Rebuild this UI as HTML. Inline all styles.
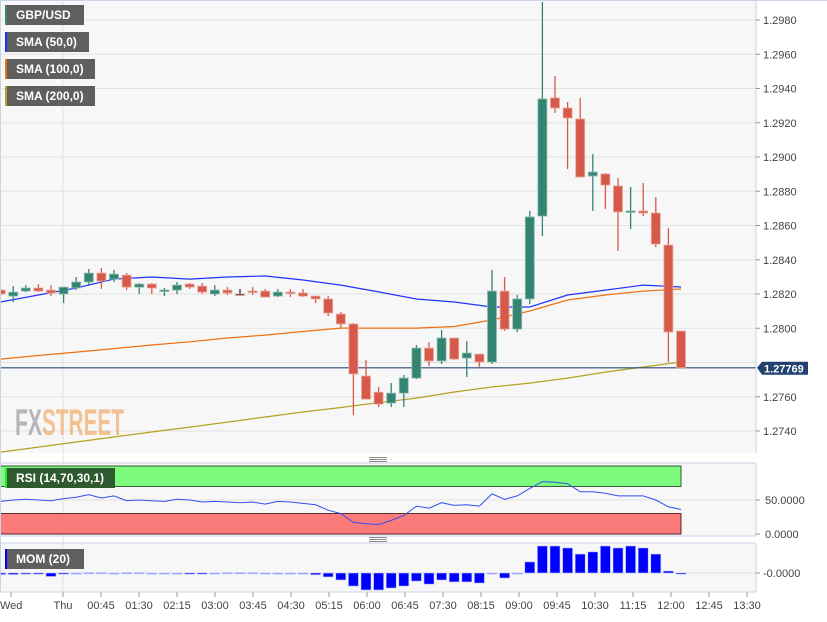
<!DOCTYPE html>
<html><head><meta charset="utf-8"><style>
body{margin:0;background:#fff;font-family:"Liberation Sans",sans-serif}
svg text{font-family:"Liberation Sans",sans-serif}
</style></head><body>
<svg id="chart" width="827" height="617" viewBox="0 0 827 617" xmlns="http://www.w3.org/2000/svg">
<rect x="0" y="0" width="827" height="617" fill="#ffffff"/>
<rect x="0" y="0" width="756" height="453" fill="#f7f7f7"/>
<rect x="0" y="463" width="756" height="73" fill="#f7f7f7"/>
<rect x="0" y="543" width="756" height="49" fill="#f7f7f7"/>
<g id="grid"></g>
<g opacity="0.6">
<text x="15" y="435" font-size="37" font-weight="bold" fill="#8a8a92" textLength="27" lengthAdjust="spacingAndGlyphs">FX</text>
<text x="42" y="435" font-size="37" font-weight="bold" fill="#f0a050" textLength="82" lengthAdjust="spacingAndGlyphs">STREET</text>
</g>
<g id="sma"></g>
<g id="candles"></g>
<g id="ind"></g>
<g id="axes"></g>
<g id="legend"></g>
</svg>
<script>
const categories = ["Wed","Thu","00:45","01:30","02:15","03:00","03:45","04:30","05:15","06:00","06:45","07:30","08:15","09:00","09:45","10:30","11:15","12:00","12:45","13:30"];
const opens  = [1.28223,1.28188,1.28217,1.28235,1.28223,1.282,1.28235,1.2827,1.28322,1.28287,1.2831,1.2824,1.28258,1.28217,1.28223,1.28258,1.28246,1.282,1.28223,1.282,1.28217,1.28217,1.28188,1.28211,1.28206,1.28188,1.28171,1.28083,1.28025,1.27721,1.27627,1.27563,1.27621,1.27709,1.27884,1.27809,1.27943,1.27826,1.27849,1.27803,1.28217,1.27995,1.28171,1.28655,1.29345,1.29286,1.29222,1.28889,1.28901,1.28831,1.28683,1.28685,1.28673,1.28486,1.27984];
const highs  = [1.28229,1.28246,1.28252,1.28258,1.28252,1.2824,1.28299,1.28346,1.28352,1.2834,1.28322,1.28264,1.28264,1.28235,1.2827,1.28264,1.28264,1.28252,1.2824,1.28229,1.2824,1.28229,1.28229,1.28229,1.28229,1.28188,1.28188,1.28095,1.2803,1.27815,1.27657,1.2768,1.27727,1.27902,1.27919,1.2799,1.27943,1.27925,1.27849,1.2834,1.28299,1.28194,1.28685,1.29905,1.29473,1.29321,1.29345,1.29017,1.28906,1.28877,1.28825,1.28848,1.28766,1.28585,1.27984];
const lows   = [1.28188,1.28153,1.28211,1.28211,1.28188,1.28147,1.28223,1.28252,1.28229,1.2827,1.28223,1.282,1.282,1.28188,1.282,1.28229,1.282,1.28188,1.28194,1.282,1.28194,1.28182,1.28182,1.28182,1.28182,1.28147,1.28071,1.28001,1.27493,1.27586,1.2754,1.2754,1.2754,1.27703,1.27779,1.27791,1.27814,1.27715,1.27774,1.27791,1.27984,1.27978,1.28141,1.28539,1.29257,1.2893,1.28883,1.28685,1.28696,1.28451,1.28579,1.28655,1.28474,1.27803,1.27768];
const closes = [1.282,1.28211,1.28235,1.28217,1.28206,1.2824,1.2827,1.28322,1.28276,1.28316,1.2824,1.28258,1.28235,1.28223,1.28252,1.2824,1.28211,1.28223,1.28206,1.282,1.28211,1.28182,1.28211,1.28206,1.28188,1.28171,1.28089,1.28025,1.27733,1.27586,1.27557,1.27621,1.27709,1.27884,1.27809,1.27943,1.2782,1.27855,1.27803,1.28217,1.27995,1.28171,1.2865,1.29339,1.29286,1.29228,1.28883,1.28912,1.28836,1.28679,1.28685,1.28673,1.28492,1.27978,1.27769];
const smaIdx = [0,3,6,9,12,15,18,21,24,27,30,33,36,39,42,45,48,51,54];
const sma50  = [1.28153,1.28194,1.28235,1.28287,1.28299,1.28287,1.28299,1.28305,1.28282,1.28252,1.28212,1.28171,1.28153,1.28124,1.28124,1.28194,1.28223,1.28252,1.28241];
const sma100 = [1.2782,1.27841,1.27861,1.27881,1.27902,1.27921,1.27943,1.2796,1.27981,1.28001,1.28001,1.28001,1.2801,1.28048,1.28101,1.28165,1.28194,1.28217,1.28229];
const sma200 = [1.27277,1.27306,1.27336,1.27365,1.27394,1.27423,1.27452,1.27482,1.27511,1.27537,1.27566,1.27592,1.27628,1.27657,1.2768,1.27709,1.27744,1.27774,1.27803];
const rsi = [48,50,51,50,49,52,54,58,53,56,49,50,49,48,51,50,47,48,47,46,47,44,48,47,45,43,35,30,17,15,14,20,27,41,38,46,42,43,41,59,51,56,67,77,76,74,62,62,60,56,56,56,50,40,36];
const mom = [-7,-7,-5,-5,-16,-5,-2,2,2,0,2,2,0,0,-2,-5,-5,0,2,2,2,0,0,0,-2,-8,-18,-32,-60,-78,-78,-69,-60,-37,-51,-32,-41,-41,-46,0,-23,0,51,124,124,115,87,97,124,115,124,115,87,9,-5];
const priceTicks = [1.298,1.296,1.294,1.292,1.290,1.288,1.286,1.284,1.282,1.280,1.278,1.276,1.274];
const lastPrice = 1.27769;

const NS="http://www.w3.org/2000/svg";
function mk(parent,tag,attrs){const e=document.createElementNS(NS,tag);for(const k in attrs)e.setAttribute(k,attrs[k]);parent.appendChild(e);return e;}
const X=i=>0.6+i*12.6;
const Y=p=>20+(1.298-p)*17125;
const RY=v=>534-v*0.68;
const MY=v=>573-v*(27/124);
const catX=[11,63,101,139,177,215,253,291,329,367,405,443,481,519,557,595,633,671,709,747];

const grid=document.getElementById('grid');
priceTicks.forEach(p=>{const l=mk(grid,'line',{x1:0,x2:756,y1:Y(p),y2:Y(p),stroke:'#e2e2e2','stroke-width':1});

});
const vg=mk(grid,'line',{x1:63,x2:63,y1:0,y2:592,stroke:'#e2e2e2'});


const rg=mk(grid,'line',{x1:0,x2:756,y1:RY(50),y2:RY(50),stroke:'#e2e2e2'});



const smaG=document.getElementById('sma');
[[sma200,'#b5a11f','sma-200-line'],[sma100,'#f07010','sma-100-line'],[sma50,'#2233ff','sma-50-line']].forEach(([arr,c,n])=>{
 const d=arr.map((v,k)=>(k?'L':'M')+X(smaIdx[k]).toFixed(1)+' '+Y(v).toFixed(1)).join(' ');
 const pth=mk(smaG,'path',{d:d,fill:'none',stroke:c,'stroke-width':1.2});
 
 
});
const cl=mk(smaG,'line',{x1:0,x2:756,y1:Y(lastPrice),y2:Y(lastPrice),stroke:'#2b4a78','stroke-width':1.2});



const cg=document.getElementById('candles');
opens.forEach((o,i)=>{
 const c=closes[i],x=X(i);
 const col=c>o?'#338471':(c<o?'#d55a4a':'#222');
 const g=mk(cg,'g',{});
 
 
 mk(g,'line',{x1:x,x2:x,y1:Y(highs[i]),y2:Y(lows[i]),stroke:col,'stroke-width':1.3});
 const top=Y(Math.max(o,c)),h=Math.max(1.5,Math.abs(Y(o)-Y(c)));
 mk(g,'rect',{x:x-4.5,y:top,width:9,height:h,fill:col,stroke:c>o?'#8fbcb0':'#eba79d','stroke-width':0.8});
});

const ig=document.getElementById('ind');
const gb=mk(ig,'rect',{x:0,y:RY(100),width:681,height:RY(70)-RY(100),fill:'#7dfb7d',stroke:'#113311','stroke-width':0.8});


const rb=mk(ig,'rect',{x:0,y:RY(30),width:681,height:RY(0)-RY(30),fill:'#fb7b7b',stroke:'#330000','stroke-width':0.8});


const rl=mk(ig,'path',{d:rsi.map((v,i)=>(i?'L':'M')+X(i).toFixed(1)+' '+RY(v).toFixed(1)).join(' '),fill:'none',stroke:'#3050f0','stroke-width':1});


const mz=mk(ig,'line',{x1:0,x2:756,y1:MY(0),y2:MY(0),stroke:'#dde'});


mom.forEach((v,i)=>{
 const y0=MY(0),y1=MY(v);
 const b=mk(ig,'rect',{x:X(i)-5,y:Math.min(y0,y1),width:10,height:Math.max(1.2,Math.abs(y1-y0)),fill:Math.abs(v)<3?'#8890ff':'#0000ff',stroke:'#b8c0ff','stroke-width':0.6});
 
 
});

const ag=document.getElementById('axes');
[[0,453],[463,536],[543,592]].forEach(([a,b])=>{mk(ag,'line',{x1:756,x2:756,y1:a,y2:b,stroke:'#c9d3e6'});});
mk(ag,'line',{x1:0,x2:756,y1:463,y2:463,stroke:'#c9d3e6'});
mk(ag,'line',{x1:0,x2:756,y1:536,y2:536,stroke:'#c9d3e6'});
mk(ag,'line',{x1:0,x2:756,y1:543,y2:543,stroke:'#c9d3e6'});
mk(ag,'line',{x1:0,x2:756,y1:592,y2:592,stroke:'#c9d3e6'});
mk(ag,'line',{x1:0,x2:827,y1:0.5,y2:0.5,stroke:'#c9d3e6'});
mk(ag,'line',{x1:0.5,x2:0.5,y1:0,y2:592,stroke:'#c9d3e6'});
[457.5,459.5,461.5].forEach(y=>mk(ag,'line',{x1:369,x2:387,y1:y,y2:y,stroke:'#666','stroke-width':0.8}));
[537.5,539.5,541.5].forEach(y=>mk(ag,'line',{x1:369,x2:387,y1:y,y2:y,stroke:'#666','stroke-width':0.8}));
priceTicks.forEach(p=>{
 if(Math.abs(p-1.278)<1e-6)return;
 mk(ag,'line',{x1:756,x2:760,y1:Y(p),y2:Y(p),stroke:'#999'});
 const t=mk(ag,'text',{x:763,y:Y(p)+4,'font-size':11,fill:'#444'});
 t.textContent=p.toFixed(4);
 
 
});
const lp=mk(ag,'path',{d:`M757 ${Y(lastPrice)} L762 ${Y(lastPrice)-6} L808 ${Y(lastPrice)-6} L808 ${Y(lastPrice)+7} L762 ${Y(lastPrice)+7} Z`,fill:'#22416e'});


const lt=mk(ag,'text',{x:764,y:Y(lastPrice)+4.5,'font-size':11,'font-weight':'bold',fill:'#fff'});
lt.textContent=lastPrice.toFixed(5);


[[50,'50.0000'],[0,'0.0000']].forEach(([v,s])=>{mk(ag,'line',{x1:756,x2:760,y1:RY(v),y2:RY(v),stroke:'#999'});
 const t=mk(ag,'text',{x:765,y:RY(v)+4,'font-size':11,fill:'#444'});t.textContent=s;
 
 });
mk(ag,'line',{x1:756,x2:760,y1:MY(0),y2:MY(0),stroke:'#999'});
const mt=mk(ag,'text',{x:763,y:MY(0)+4,'font-size':11,fill:'#444'});mt.textContent='-0.0000';


categories.forEach((s,i)=>{
 mk(ag,'line',{x1:catX[i],x2:catX[i],y1:592,y2:597,stroke:'#999'});
 const t=mk(ag,'text',{x:catX[i],y:609,'font-size':11,fill:'#444','text-anchor':i==0?'start':'middle'});
 if(i==0)t.setAttribute('x',0);
 t.textContent=s;
 
 
});

const lg=document.getElementById('legend');
[[5,5,79,'GBP/USD','#2e8b74','legend-gbpusd'],[5,32,84,'SMA (50,0)','#1a33ff','legend-sma-50'],[5,59,90,'SMA (100,0)','#f07010','legend-sma-100'],[5,86,90,'SMA (200,0)','#b5a11f','legend-sma-200'],[5,468,110,'RSI (14,70,30,1)','#22ee22','legend-rsi'],[5,549,79,'MOM (20)','#0000ff','legend-mom']].forEach(([x,y,w,s,c,n])=>{
 const g=mk(lg,'g',{});
 
 
 mk(g,'rect',{x:x,y:y,width:w,height:20,fill:n=='legend-rsi'?'#2f5a2f':'#5f5f5f'});
 mk(g,'rect',{x:x,y:y,width:2,height:20,fill:c});
 const t=mk(g,'text',{x:x+11,y:y+14,'font-size':12,'font-weight':'bold',fill:'#fff'});
 t.textContent=s;
});
</script>
</body></html>
